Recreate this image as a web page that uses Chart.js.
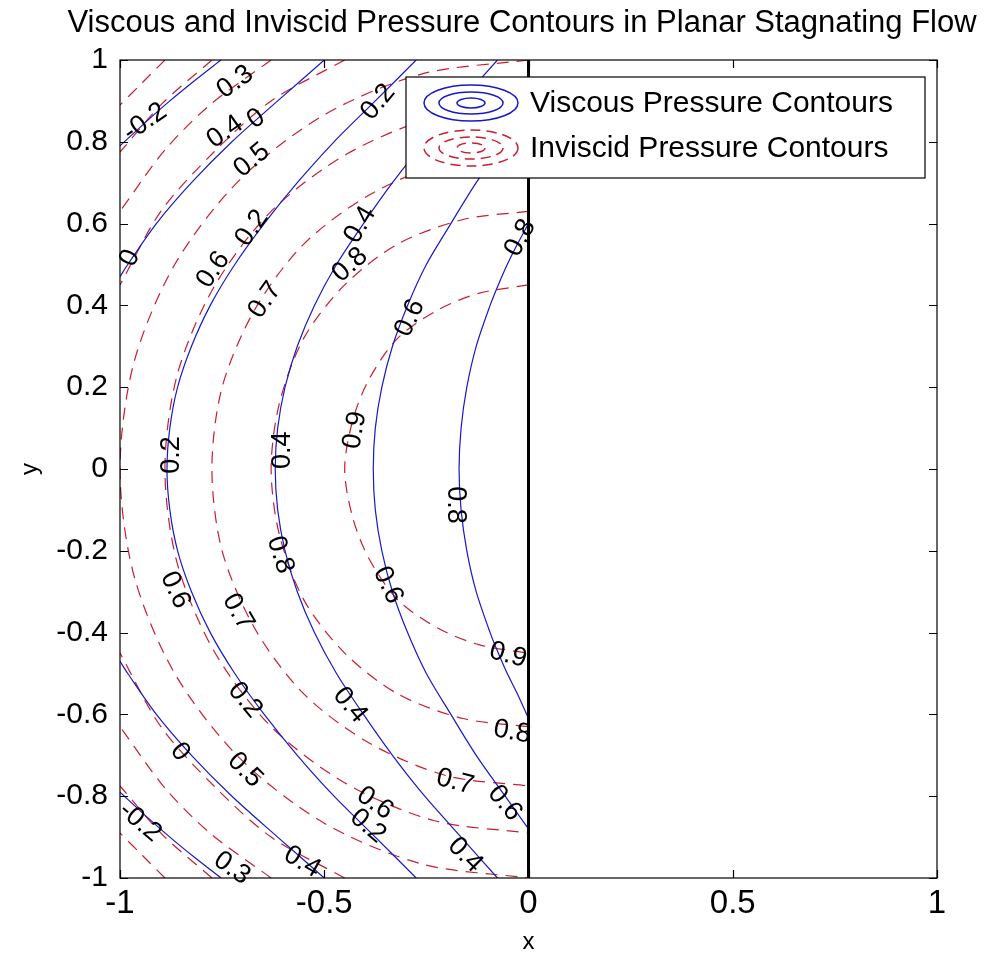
<!DOCTYPE html>
<html>
<head>
<meta charset="utf-8">
<title>Viscous and Inviscid Pressure Contours</title>
<script src="https://cdn.jsdelivr.net/npm/chart.js@4.4.1/dist/chart.umd.min.js"></script>
<style>
  html, body { margin: 0; padding: 0; background: #fff; }
  #chart { display: block; }
</style>
</head>
<body>
<canvas id="chart" width="988" height="959"></canvas>
<script>
// Axis ticks
const xTicks = [-1, -0.5, 0, 0.5, 1];
const xTickLabels = ['-1', '-0.5', '0', '0.5', '1'];
const yTicks = [-1, -0.8, -0.6, -0.4, -0.2, 0, 0.2, 0.4, 0.6, 0.8, 1];
const yTickLabels = ['-1', '-0.8', '-0.6', '-0.4', '-0.2', '0', '0.2', '0.4', '0.6', '0.8', '1'];

// Viscous pressure contours (blue, solid), [x, y]
const viscous08 = [[0, 0.6], [-0.027, 0.55], [-0.052, 0.5], [-0.074, 0.45], [-0.094, 0.4], [-0.128, 0.3], [-0.151, 0.2],
  [-0.165, 0.1], [-0.17, 0], [-0.165, -0.1], [-0.151, -0.2], [-0.128, -0.3], [-0.094, -0.4], [-0.074, -0.45],
  [-0.052, -0.5], [-0.027, -0.55], [0, -0.61]];
const viscous06 = [[0, 0.87], [-0.057, 0.8], [-0.128, 0.7], [-0.19, 0.6], [-0.25, 0.5], [-0.296, 0.4], [-0.333, 0.3],
  [-0.359, 0.2], [-0.375, 0.1], [-0.38, 0], [-0.375, -0.1], [-0.359, -0.2], [-0.333, -0.3], [-0.296, -0.4],
  [-0.25, -0.5], [-0.19, -0.6], [-0.128, -0.7], [-0.057, -0.8], [0, -0.88]];
const viscous04 = [[-0.076, 1], [-0.165, 0.9], [-0.254, 0.8], [-0.333, 0.7], [-0.404, 0.6], [-0.47, 0.5], [-0.524, 0.4],
  [-0.566, 0.3], [-0.596, 0.2], [-0.614, 0.1], [-0.62, 0], [-0.614, -0.1], [-0.596, -0.2], [-0.566, -0.3],
  [-0.524, -0.4], [-0.47, -0.5], [-0.404, -0.6], [-0.333, -0.7], [-0.254, -0.8], [-0.165, -0.9], [-0.076, -1]];
const viscous02 = [[-0.275, 1], [-0.375, 0.9], [-0.476, 0.8], [-0.566, 0.7], [-0.647, 0.6], [-0.719, 0.5], [-0.779, 0.4],
  [-0.825, 0.3], [-0.859, 0.2], [-0.878, 0.1], [-0.885, 0], [-0.878, -0.1], [-0.859, -0.2], [-0.825, -0.3],
  [-0.779, -0.4], [-0.719, -0.5], [-0.647, -0.6], [-0.566, -0.7], [-0.476, -0.8], [-0.375, -0.9], [-0.275, -1]];
const viscous0Top = [[-0.5, 1], [-0.614, 0.9], [-0.726, 0.8], [-0.825, 0.7], [-0.911, 0.6], [-0.981, 0.5], [-1, 0.47]];
const viscous0Bottom = [[-0.5, -1], [-0.614, -0.9], [-0.726, -0.8], [-0.825, -0.7], [-0.911, -0.6], [-0.981, -0.5], [-1, -0.47]];
const viscousNeg02Top = [[-0.753, 1], [-0.817, 0.95], [-0.878, 0.9], [-0.935, 0.85], [-1, 0.79]];
const viscousNeg02Bottom = [[-0.753, -1], [-0.817, -0.95], [-0.878, -0.9], [-0.935, -0.85], [-1, -0.79]];

// Inviscid pressure contours (red, dashed)
const inviscid09 = [[0, 0.45], [-0.12, 0.43], [-0.22, 0.39], [-0.32, 0.32], [-0.39, 0.22], [-0.43, 0.12], [-0.45, 0],
  [-0.43, -0.12], [-0.39, -0.22], [-0.32, -0.32], [-0.22, -0.39], [-0.12, -0.43], [0, -0.45]];
const inviscid08 = [[0, 0.63], [-0.16, 0.61], [-0.32, 0.55], [-0.45, 0.45], [-0.55, 0.32], [-0.61, 0.16], [-0.63, 0],
  [-0.61, -0.16], [-0.55, -0.32], [-0.45, -0.45], [-0.32, -0.55], [-0.16, -0.61], [0, -0.63]];
const inviscid07 = [[0, 0.775], [-0.2, 0.75], [-0.39, 0.67], [-0.55, 0.55], [-0.67, 0.39], [-0.75, 0.2], [-0.775, 0],
  [-0.75, -0.2], [-0.67, -0.39], [-0.55, -0.55], [-0.39, -0.67], [-0.2, -0.75], [0, -0.775]];
const inviscid06 = [[0, 0.89], [-0.23, 0.86], [-0.445, 0.77], [-0.63, 0.63], [-0.77, 0.445], [-0.86, 0.23], [-0.89, 0],
  [-0.86, -0.23], [-0.77, -0.445], [-0.63, -0.63], [-0.445, -0.77], [-0.23, -0.86], [0, -0.89]];
const inviscid05 = [[0, 1], [-0.26, 0.966], [-0.5, 0.866], [-0.707, 0.707], [-0.866, 0.5], [-0.966, 0.26], [-1, 0],
  [-0.966, -0.26], [-0.866, -0.5], [-0.707, -0.707], [-0.5, -0.866], [-0.26, -0.966], [0, -1]];
const inviscid04Top = [[-0.45, 1], [-0.63, 0.9], [-0.77, 0.775], [-0.9, 0.63], [-1, 0.45]];
const inviscid04Bottom = [[-0.45, -1], [-0.63, -0.9], [-0.77, -0.775], [-0.9, -0.63], [-1, -0.45]];
const inviscid03Top = [[-0.63, 1], [-0.78, 0.89], [-0.89, 0.78], [-1, 0.63]];
const inviscid03Bottom = [[-0.63, -1], [-0.78, -0.89], [-0.89, -0.78], [-1, -0.63]];
const inviscid02Top = [[-0.775, 1], [-0.895, 0.895], [-1, 0.775]];
const inviscid02Bottom = [[-0.775, -1], [-0.895, -0.895], [-1, -0.775]];
const inviscid01Top = [[-0.89, 1], [-0.945, 0.945], [-1, 0.89]];
const inviscid01Bottom = [[-0.89, -1], [-0.945, -0.945], [-1, -0.89]];

// Wall at x = 0
const wallLine = [[0, -1], [0, 1]];

// Contour labels: [text, x, y, angle in degrees]
const contourLabels = [
  ['-0.2', -0.939, 0.848, -35], ['0.3', -0.718, 0.946, -35], ['0.4', -0.743, 0.824, -35], ['0', -0.667, 0.856, -35],
  ['0.5', -0.677, 0.755, -40], ['0.2', -0.677, 0.589, -55], ['0.6', -0.772, 0.487, -55], ['0.7', -0.645, 0.413, -55],
  ['0', -0.976, 0.516, -65], ['0.2', -0.368, 0.897, -50], ['0.4', -0.412, 0.597, -60], ['0.8', -0.437, 0.499, -42],
  ['0.6', -0.29, 0.369, -65], ['0.8', -0.02, 0.565, -62], ['0.9', -0.425, 0.095, -80], ['0.2', -0.873, 0.034, -90],
  ['0.4', -0.601, 0.046, -90], ['0.8', -0.18, -0.088, 90], ['0.8', -0.608, -0.21, 72], ['0.6', -0.865, -0.296, 65],
  ['0.7', -0.711, -0.35, 60], ['0.6', -0.344, -0.284, 65], ['0.2', -0.694, -0.565, 50], ['0', -0.853, -0.692, 50],
  ['0.4', -0.437, -0.577, 50], ['0.5', -0.694, -0.736, 45], ['-0.2', -0.951, -0.863, 40], ['0.3', -0.726, -0.976, 35],
  ['0.6', -0.376, -0.817, 35], ['0.2', -0.393, -0.873, 40], ['0.4', -0.554, -0.961, 30], ['0.4', -0.155, -0.944, 45],
  ['0.9', -0.05, -0.455, 15], ['0.8', -0.04, -0.643, 10], ['0.7', -0.18, -0.765, 15], ['0.6', -0.058, -0.817, 50]
];

const titleText = 'Viscous and Inviscid Pressure Contours in Planar Stagnating Flow';
const legendLabels = ['Viscous Pressure Contours', 'Inviscid Pressure Contours'];

const FONT = '"Liberation Sans", Arial, Helvetica, sans-serif';
const BLUE = 'rgb(25, 25, 200)';
const RED = 'rgb(200, 30, 50)';

const toPoints = arr => arr.map(p => ({ x: p[0], y: p[1] }));

const viscousLines = [viscous08, viscous06, viscous04, viscous02, viscous0Top, viscous0Bottom,
  viscousNeg02Top, viscousNeg02Bottom];
const inviscidLines = [inviscid09, inviscid08, inviscid07, inviscid06, inviscid05, inviscid04Top, inviscid04Bottom,
  inviscid03Top, inviscid03Bottom, inviscid02Top, inviscid02Bottom, inviscid01Top, inviscid01Bottom];

const lineDefaults = { showLine: true, pointRadius: 0, fill: false, tension: 0.3 };

const datasets = [];
datasets.push({ ...lineDefaults, data: toPoints(wallLine), borderColor: '#000', borderWidth: 3, tension: 0, order: 0 });
viscousLines.forEach(line => {
  datasets.push({ ...lineDefaults, data: toPoints(line), borderColor: BLUE, borderWidth: 1.2, order: 1 });
});
inviscidLines.forEach(line => {
  datasets.push({ ...lineDefaults, data: toPoints(line), borderColor: RED, borderWidth: 1.2, borderDash: [12, 8], order: 2 });
});

// Box, inward ticks, contour labels, legend and title
const decorations = {
  id: 'decorations',
  afterDatasetsDraw(chart) {
    const { ctx, chartArea: a, scales: { x, y } } = chart;
    ctx.save();
    ctx.strokeStyle = '#000';
    ctx.lineWidth = 1.2;
    ctx.strokeRect(a.left, a.top, a.right - a.left, a.bottom - a.top);

    const tl = 8;
    ctx.beginPath();
    x.ticks.forEach(t => {
      const px = Math.round(x.getPixelForValue(t.value)) + 0.5;
      ctx.moveTo(px, a.bottom); ctx.lineTo(px, a.bottom - tl);
      ctx.moveTo(px, a.top); ctx.lineTo(px, a.top + tl);
    });
    y.ticks.forEach(t => {
      const py = Math.round(y.getPixelForValue(t.value)) + 0.5;
      ctx.moveTo(a.left, py); ctx.lineTo(a.left + tl, py);
      ctx.moveTo(a.right, py); ctx.lineTo(a.right - tl, py);
    });
    ctx.stroke();

    // contour labels
    ctx.fillStyle = '#000';
    ctx.font = '27px ' + FONT;
    ctx.textAlign = 'center';
    ctx.textBaseline = 'middle';
    contourLabels.forEach(([text, lx, ly, ang]) => {
      ctx.save();
      ctx.translate(x.getPixelForValue(lx), y.getPixelForValue(ly));
      ctx.rotate(ang * Math.PI / 180);
      ctx.fillText(text, 0, 0);
      ctx.restore();
    });

    // legend
    const box = { left: 406, top: 77, width: 519, height: 101 };
    ctx.fillStyle = '#fff';
    ctx.fillRect(box.left, box.top, box.width, box.height);
    ctx.strokeStyle = '#000';
    ctx.lineWidth = 1.2;
    ctx.strokeRect(box.left, box.top, box.width, box.height);

    const icon = (cx, cy, color, dash) => {
      ctx.strokeStyle = color;
      ctx.lineWidth = 1.5;
      ctx.setLineDash(dash);
      [[47, 18], [32, 11], [14, 5]].forEach(([rx, ry]) => {
        ctx.beginPath();
        ctx.ellipse(cx, cy, rx, ry, 0, 0, Math.PI * 2);
        ctx.stroke();
      });
      ctx.setLineDash([]);
    };
    icon(471, 103, BLUE, []);
    icon(471, 148, RED, [10, 6]);

    ctx.fillStyle = '#000';
    ctx.font = '30px ' + FONT;
    ctx.textAlign = 'left';
    ctx.textBaseline = 'middle';
    ctx.fillText(legendLabels[0], 530, 104);
    ctx.fillText(legendLabels[1], 530, 149);

    // title
    ctx.font = '31px ' + FONT;
    ctx.textAlign = 'center';
    ctx.fillText(titleText, 522, 23);
    ctx.restore();
  }
};

const ctx = document.getElementById('chart').getContext('2d');
new Chart(ctx, {
  type: 'scatter',
  data: { datasets },
  options: {
    responsive: false,
    animation: false,
    devicePixelRatio: 1,
    layout: { padding: { top: 60, right: 51, left: 0, bottom: 0 } },
    plugins: {
      legend: { display: false },
      tooltip: { enabled: false },
      title: { display: false }
    },
    scales: {
      x: {
        type: 'linear', min: -1, max: 1,
        afterBuildTicks: s => { s.ticks = xTicks.map(v => ({ value: v })); },
        afterFit: s => { s.height = 81; },
        ticks: {
          autoSkip: false, maxRotation: 0, padding: 6, color: '#000',
          font: { family: FONT, size: 33 },
          callback: v => xTickLabels[xTicks.indexOf(v)]
        },
        grid: { display: false, drawTicks: false },
        border: { display: false },
        title: { display: true, text: 'x', color: '#000', font: { family: FONT, size: 24 }, padding: { top: 0, bottom: 2 } }
      },
      y: {
        type: 'linear', min: -1, max: 1,
        afterBuildTicks: s => { s.ticks = yTicks.map(v => ({ value: v })); },
        afterFit: s => { s.width = 120; },
        ticks: {
          autoSkip: false, padding: 12, color: '#000',
          font: { family: FONT, size: 30 },
          callback: v => yTickLabels[yTicks.indexOf(v)]
        },
        grid: { display: false, drawTicks: false },
        border: { display: false },
        title: { display: true, text: 'y', color: '#000', font: { family: FONT, size: 24 }, padding: { top: 16, bottom: 0 } }
      }
    }
  },
  plugins: [decorations]
});
</script>
</body>
</html>
